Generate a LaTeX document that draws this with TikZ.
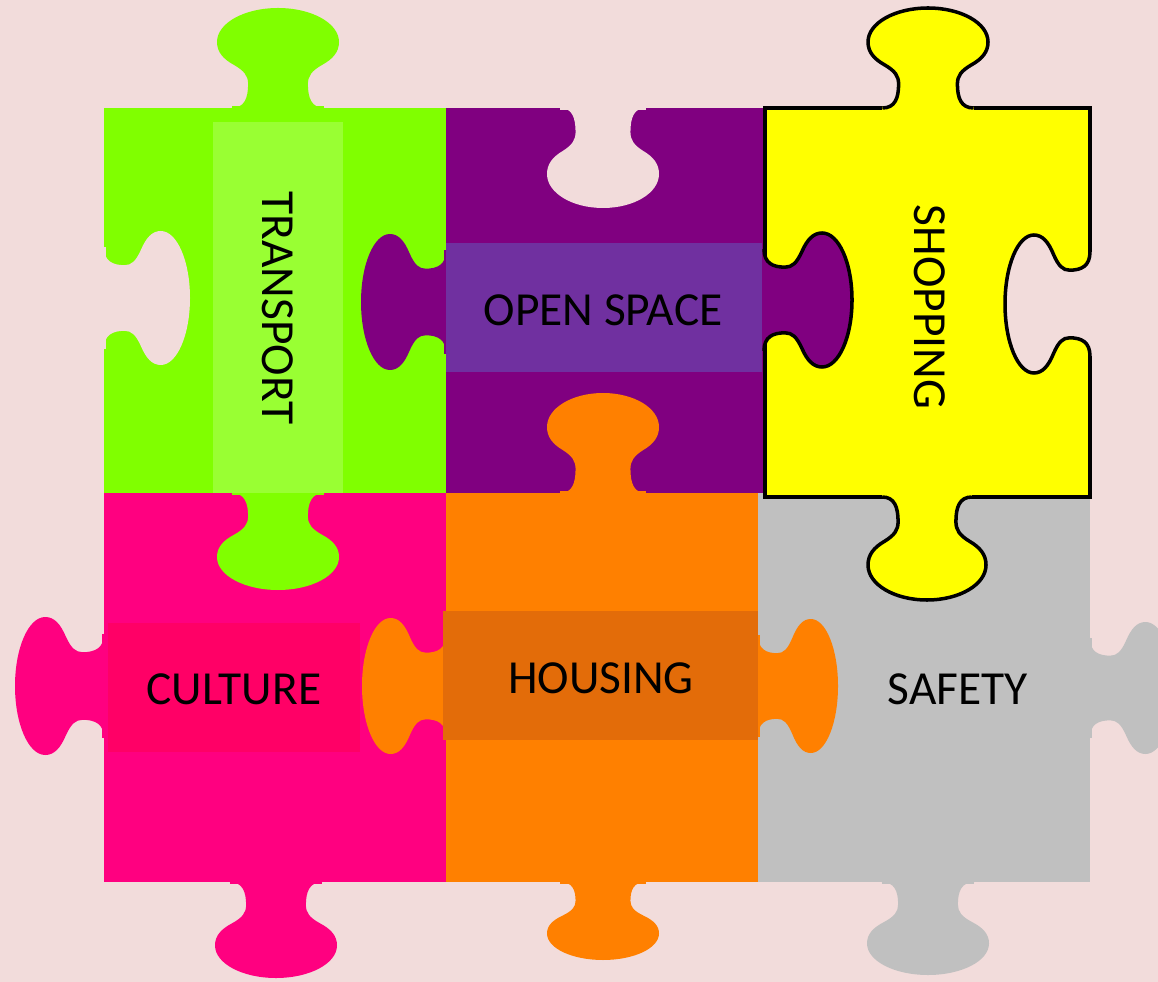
\documentclass[tikz,border=0pt]{standalone}
\usepackage{fontspec}
\setmainfont{Carlito}
\definecolor{paper}{HTML}{F2DCDB}
\definecolor{leaf}{HTML}{80FF00}
\definecolor{leaflight}{HTML}{99FF33}
\definecolor{plum}{HTML}{800080}
\definecolor{plumlight}{HTML}{7030A0}
\definecolor{sun}{HTML}{FFFF00}
\definecolor{rose}{HTML}{FF0080}
\definecolor{roselight}{HTML}{FF0066}
\definecolor{amber}{HTML}{FF8000}
\definecolor{amberdark}{HTML}{E36C09}
\definecolor{stone}{HTML}{C0C0C0}
% one puzzle knob: fill, edge style, base x, base y, angle, half width, length
\newcommand{\puzzletab}[7]{%
  \begin{scope}[shift={(#3,#4)},rotate=#5,xscale=#6,yscale=#7]
    \fill[#1] (-0.76,-0.06) rectangle (0.76,0.02);
    \path[fill=#1,#2] (-0.76,0) .. controls (-0.55,0) and (-0.49,0.1) .. (-0.49,0.24)
      .. controls (-0.49,0.32) and (-0.55,0.37) .. (-0.72,0.43)
      .. controls (-0.9,0.49) and (-1,0.56) .. (-1,0.66)
      .. controls (-1,0.85) and (-0.55,1) .. (0,1)
      .. controls (0.55,1) and (1,0.85) .. (1,0.66)
      .. controls (1,0.56) and (0.9,0.49) .. (0.72,0.43)
      .. controls (0.55,0.37) and (0.49,0.32) .. (0.49,0.24)
      .. controls (0.49,0.1) and (0.55,0) .. (0.76,0);
  \end{scope}}
\begin{document}
\begin{tikzpicture}[x=0.02cm,y=-0.02cm]
  \tikzstyle{every node}+=[inner sep=0pt, font=\fontsize{27}{31}\selectfont]
  \tikzstyle{rim}=[draw=black, line width=2pt]
  \useasboundingbox (0,0) rectangle (1158,982);
  \fill[paper] (0,0) rectangle (1158,982);
  \clip (0,0) rectangle (1158,982);
  % bodies
  \fill[leaf] (104,108) rectangle (446,493);
  \fill[plum] (446,108) rectangle (764,493);
  \fill[rose] (104,493) rectangle (446,882);
  \fill[amber] (446,493) rectangle (758,882);
  \fill[stone] (758,493) rectangle (1090,882);
  \filldraw[fill=sun, rim] (765,108) rectangle (1090,497);
  % knobs
  \puzzletab{leaf}{draw=none}{278}{108}{180}{61}{100}
  \puzzletab{paper}{draw=none}{104}{298}{90}{67}{86}
  \puzzletab{leaf}{draw=none}{278}{493}{0}{61}{97}
  \puzzletab{plum}{draw=none}{446}{302}{-90}{68}{85}
  \puzzletab{paper}{draw=none}{603}{108}{0}{56}{100}
  \puzzletab{plum}{rim}{764}{300}{90}{67}{88}
  \puzzletab{amber}{draw=none}{603}{493}{180}{56}{100}
  \puzzletab{sun}{rim}{928}{108}{180}{60}{100}
  \puzzletab{paper}{rim}{1090}{304}{-90}{69}{85}
  \puzzletab{sun}{rim}{927}{497}{0}{59}{103}
  \puzzletab{rose}{draw=none}{104}{686}{-90}{69}{89}
  \puzzletab{amber}{draw=none}{446}{686}{-90}{68}{84}
  \puzzletab{amber}{draw=none}{758}{686}{90}{67}{80}
  \puzzletab{stone}{draw=none}{1090}{688}{90}{66}{84}
  \puzzletab{rose}{draw=none}{276}{882}{0}{61}{96}
  \puzzletab{amber}{draw=none}{603}{882}{0}{56}{78}
  \puzzletab{stone}{draw=none}{928}{882}{0}{61}{93}
  % label bands
  \fill[leaflight] (213,122) rectangle (343,493);
  \fill[plumlight] (446,243) rectangle (762,372);
  \fill[roselight] (108,623) rectangle (360,752);
  \fill[amberdark] (443,611) rectangle (758,740);
  % labels
  \node (transport) at (278,308) [rotate=-90] {TRANSPORT};
  \node (openspace) at (603,310) {OPEN SPACE};
  \node (shopping) at (930,307) [rotate=-90] {SHOPPING};
  \node (culture) at (234,689) {CULTURE};
  \node (housing) at (601,678) {HOUSING};
  \node (safety) at (958,689) {SAFETY};
\end{tikzpicture}
\end{document}
